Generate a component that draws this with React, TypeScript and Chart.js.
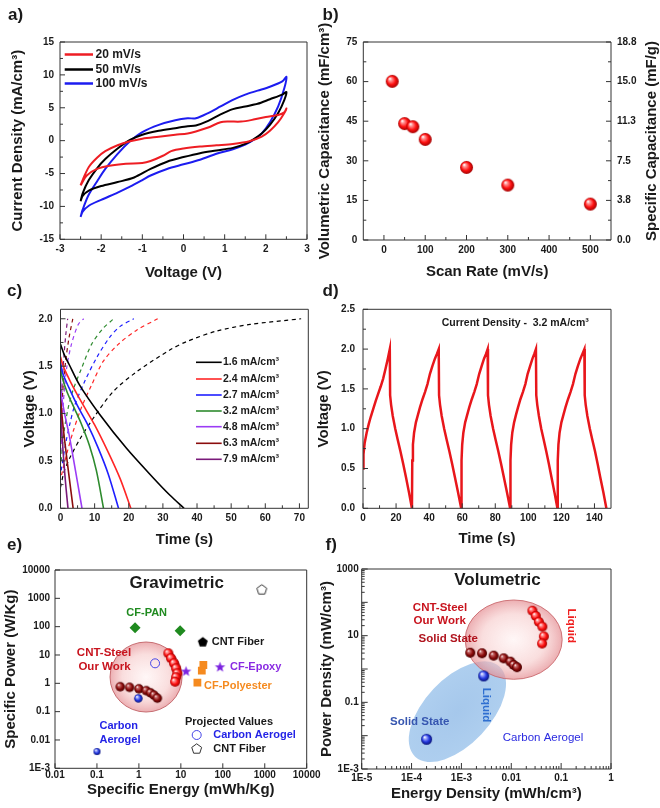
import React, { useEffect, useRef } from 'react';
import { Chart, registerables } from 'chart.js';

Chart.register(...registerables);

const FONT = "'Liberation Sans', Arial, Helvetica, sans-serif";
const INK = '#1a1a1a';
Chart.defaults.font.family = FONT;
Chart.defaults.color = INK;

/* ---------------- (a) cyclic voltammetry ---------------- */
const cv20Voltage = [-2.5, -2.45, -2.3, -2.1, -1.9, -1.6, -1.3, -1.0, -0.6, -0.2, 0.1, 0.3, 0.6, 0.9, 1.1, 1.4, 1.7, 2.0, 2.3, 2.45, 2.5, 2.45, 2.3, 2.1, 1.9, 1.6, 1.2, 0.8, 0.4, 0, -0.3, -0.5, -0.8, -1.0, -1.4, -1.8, -2.1, -2.35, -2.5];
const cv20Current = [-6.8, -6.0, -4.0, -2.6, -1.6, -0.7, -0.1, 0.3, 0.6, 0.9, 1.1, 1.4, 2.0, 2.8, 2.9, 2.9, 3.2, 3.6, 3.9, 4.3, 4.9, 4.2, 2.8, 1.5, 0.6, -0.1, -0.5, -0.7, -0.9, -1.2, -1.6, -2.3, -3.1, -3.4, -3.5, -3.8, -4.3, -5.3, -6.8];
const cv50Voltage = [-2.5, -2.45, -2.3, -2.1, -1.9, -1.6, -1.3, -1.0, -0.6, -0.2, 0.1, 0.3, 0.6, 0.9, 1.2, 1.5, 1.8, 2.1, 2.4, 2.5, 2.45, 2.3, 2.1, 1.9, 1.7, 1.5, 1.2, 0.8, 0.4, 0, -0.4, -0.8, -1.2, -1.6, -2.0, -2.3, -2.45, -2.5];
const cv50Current = [-9.2, -8.0, -6.0, -4.2, -2.8, -1.2, 0.1, 0.9, 1.5, 1.9, 2.2, 2.3, 3.0, 4.0, 4.8, 5.2, 5.6, 6.3, 7.0, 7.4, 6.2, 4.2, 2.4, 1.1, 0.2, -0.5, -1.1, -1.5, -1.9, -2.5, -3.2, -4.3, -5.6, -6.3, -6.9, -7.6, -8.4, -9.2];
const cv100Voltage = [-2.5, -2.45, -2.3, -2.1, -1.9, -1.6, -1.3, -1.0, -0.6, -0.2, 0.1, 0.3, 0.6, 0.9, 1.2, 1.5, 1.8, 2.1, 2.4, 2.5, 2.45, 2.3, 2.1, 1.9, 1.7, 1.5, 1.2, 0.8, 0.4, 0, -0.4, -0.8, -1.0, -1.3, -1.6, -2.0, -2.3, -2.45, -2.5];
const cv100Current = [-11.6, -10.5, -8.2, -6.2, -4.3, -2.0, -0.1, 1.3, 2.4, 3.1, 3.4, 3.4, 4.2, 5.2, 6.2, 7.0, 7.6, 8.2, 9.0, 9.7, 8.0, 5.2, 2.8, 1.1, 0.1, -0.6, -1.3, -2.0, -2.9, -3.6, -4.3, -5.3, -6.0, -7.0, -7.9, -9.0, -9.9, -10.8, -11.6];
const cvLegend = ['20 mV/s', '50 mV/s', '100 mV/s'];
const cvVoltageTicks = [-3, -2, -1, 0, 1, 2, 3];
const cvVoltageMinor = [-2.5, -1.5, -0.5, 0.5, 1.5, 2.5];
const cvCurrentTicks = [-15, -10, -5, 0, 5, 10, 15];
const cvCurrentMinor = [-12.5, -7.5, -2.5, 2.5, 7.5, 12.5];

/* ---------------- (b) capacitance vs scan rate ---------------- */
const scanRate = [20, 50, 70, 100, 200, 300, 500];
const volCapacitance = [60.1, 44.1, 42.9, 38.1, 27.5, 20.8, 13.6];
const scanRateTicks = [0, 100, 200, 300, 400, 500];
const scanRateMinor = [50, 150, 250, 350, 450];
const volCapTicks = [0, 15, 30, 45, 60, 75];
const volCapMinor = [7.5, 22.5, 37.5, 52.5, 67.5];
const specCapTicks = [0, 3.75, 7.5, 11.25, 15, 18.75];
const specCapLabels = ['0.0', '3.8', '7.5', '11.3', '15.0', '18.8'];

/* ---------------- (c) charge / discharge at several currents ---------------- */
const dis16Time = [0, 1, 2.5, 5.6, 11.5, 19.4, 27.2, 32, 36.2];
const dis16Volt = [1.73, 1.63, 1.52, 1.3, 0.99, 0.63, 0.32, 0.14, 0];
const dis24Time = [0, 0.8, 3, 6, 10, 14, 17.5, 20.6];
const dis24Volt = [1.6, 1.5, 1.33, 1.13, 0.88, 0.59, 0.31, 0];
const dis27Time = [0, 0.6, 2.5, 5, 8, 11, 14, 17.0];
const dis27Volt = [1.55, 1.43, 1.27, 1.08, 0.88, 0.64, 0.36, 0];
const dis32Time = [0, 0.5, 2, 4, 6, 8.5, 10.5, 12.6];
const dis32Volt = [1.5, 1.38, 1.22, 1.06, 0.9, 0.66, 0.4, 0];
const dis48Time = [0, 0.3, 1.2, 2.5, 3.8, 5, 6.3];
const dis48Volt = [1.35, 1.18, 1.0, 0.78, 0.52, 0.27, 0];
const dis63Time = [0, 0.2, 0.8, 1.6, 2.5, 3.7];
const dis63Volt = [1.3, 1.08, 0.85, 0.6, 0.34, 0];
const dis79Time = [0, 0.15, 0.5, 1.0, 1.6, 2.2];
const dis79Volt = [1.2, 0.98, 0.74, 0.48, 0.22, 0];
const chg16Time = [0, 1, 2.7, 6, 9.6, 15.4, 22.3, 32, 37, 45.7, 55.5, 70.5];
const chg16Volt = [0.22, 0.38, 0.53, 0.75, 0.95, 1.23, 1.44, 1.67, 1.76, 1.87, 1.94, 2.0];
const chg24Time = [0.3, 1.8, 3.7, 6.2, 9.1, 12.5, 16.9, 22.3, 28.5];
const chg24Volt = [0.35, 0.57, 0.81, 1.07, 1.3, 1.55, 1.73, 1.88, 2.0];
const chg27Time = [0.2, 1.5, 2.8, 4.2, 7.1, 10.6, 14.5, 17.5, 21.5];
const chg27Volt = [0.4, 0.68, 0.9, 1.09, 1.34, 1.59, 1.81, 1.92, 2.0];
const chg32Time = [0.2, 1.0, 2.2, 3.7, 6.2, 9.1, 12.5, 15.6];
const chg32Volt = [0.5, 0.8, 1.05, 1.25, 1.48, 1.73, 1.9, 2.0];
const chg48Time = [0.1, 0.8, 1.8, 3.2, 5.2, 6.8];
const chg48Volt = [0.6, 1.1, 1.48, 1.73, 1.94, 2.0];
const chg63Time = [0.1, 0.6, 1.5, 2.5, 3.6];
const chg63Volt = [0.7, 1.2, 1.55, 1.8, 2.0];
const chg79Time = [0.05, 0.4, 1.0, 1.6, 2.1];
const chg79Volt = [0.8, 1.25, 1.6, 1.85, 2.0];
const gcdCurrentLabels = ['1.6 mA/cm³', '2.4 mA/cm³', '2.7 mA/cm³', '3.2 mA/cm³', '4.8 mA/cm³', '6.3 mA/cm³', '7.9 mA/cm³'];
const gcdColors = ['#000000', '#ff2626', '#1f1fff', '#2e8b2e', '#9b3cf5', '#8b0d0d', '#7a1a7a'];
const timeTicksC = [0, 10, 20, 30, 40, 50, 60, 70];
const timeMinorC = [5, 15, 25, 35, 45, 55, 65];
const voltTicksC = [0, 0.5, 1, 1.5, 2];
const voltLabelsC = ['0.0', '0.5', '1.0', '1.5', '2.0'];
const voltMinorC = [0.25, 0.75, 1.25, 1.75];

/* ---------------- (d) cycling at 3.2 mA/cm3 ---------------- */
const cycleTime = [
  0, 0.3, 1.0, 2.2, 3.5, 4.7, 6.2, 7.7, 9.2, 10.7, 12.2, 13.7, 15.0, 16.2,
  16.4, 17.0, 18.0, 19.5, 21.0, 22.6, 24.3, 26.0, 27.8, 29.6,
  29.8, 30.2, 30.9, 32.0, 33.3, 34.5, 36.0, 37.5, 39.0, 40.5, 42.0, 43.5, 44.7, 45.8,
  46.0, 46.6, 47.6, 49.1, 50.6, 52.2, 53.9, 55.6, 57.5, 59.4,
  59.6, 60.0, 60.7, 61.8, 63.1, 64.3, 65.8, 67.3, 68.8, 70.3, 71.8, 73.2, 74.4, 75.4,
  75.6, 76.2, 77.2, 78.7, 80.2, 81.8, 83.5, 85.2, 87.1, 89.0,
  89.2, 89.6, 90.3, 91.4, 92.6, 93.8, 95.2, 96.7, 98.2, 99.6, 101.1, 102.5, 103.6, 104.6,
  104.8, 105.4, 106.4, 107.8, 109.3, 110.8, 112.4, 114.0, 115.8, 117.6,
  117.8, 118.2, 118.9, 120.0, 121.3, 122.5, 124.0, 125.5, 127.0, 128.5, 130.0, 131.5, 132.7, 133.9,
  134.1, 134.7, 135.7, 137.2, 138.7, 140.3, 141.9, 143.5, 145.4, 147.2,
];
const cycleVoltage = [
  0.5, 0.68, 0.82, 0.95, 1.06, 1.15, 1.25, 1.35, 1.44, 1.53, 1.63, 1.76, 1.88, 2.0,
  1.42, 1.3, 1.16, 1.0, 0.86, 0.72, 0.56, 0.39, 0.2, 0,
  0.6, 0.8, 0.95, 1.08, 1.18, 1.27, 1.37, 1.46, 1.56, 1.69, 1.79, 1.88, 1.94, 2.0,
  1.42, 1.3, 1.16, 1.0, 0.86, 0.72, 0.56, 0.39, 0.2, 0,
  0.6, 0.8, 0.95, 1.08, 1.18, 1.27, 1.37, 1.46, 1.56, 1.69, 1.79, 1.88, 1.94, 2.0,
  1.42, 1.3, 1.16, 1.0, 0.86, 0.72, 0.56, 0.39, 0.2, 0,
  0.6, 0.8, 0.95, 1.08, 1.18, 1.27, 1.37, 1.46, 1.56, 1.69, 1.79, 1.88, 1.94, 2.0,
  1.42, 1.3, 1.16, 1.0, 0.86, 0.72, 0.56, 0.39, 0.2, 0,
  0.6, 0.8, 0.95, 1.08, 1.18, 1.27, 1.37, 1.46, 1.56, 1.69, 1.79, 1.88, 1.94, 2.0,
  1.42, 1.3, 1.16, 1.0, 0.86, 0.72, 0.56, 0.39, 0.2, 0,
];
const timeTicksD = [0, 20, 40, 60, 80, 100, 120, 140];
const timeMinorD = [10, 30, 50, 70, 90, 110, 130];
const voltTicksD = [0, 0.5, 1, 1.5, 2, 2.5];
const voltLabelsD = ['0.0', '0.5', '1.0', '1.5', '2.0', '2.5'];
const voltMinorD = [0.25, 0.75, 1.25, 1.75, 2.25];

/* ---------------- (e) gravimetric Ragone ---------------- */
const steelLiquidEnergyE = [5.04, 5.84, 6.88, 7.69, 8.26, 7.69, 7.28];
const steelLiquidPowerE = [11.5, 7.64, 5.08, 3.38, 2.25, 1.63, 1.14];
const steelSolidEnergyE = [0.36, 0.6, 1.0, 1.5, 1.9, 2.3, 2.75];
const steelSolidPowerE = [0.76, 0.72, 0.64, 0.55, 0.46, 0.38, 0.3];
const aerogelEnergyE = [0.1, 0.97];
const aerogelPowerE = [0.0039, 0.295];
const aerogelProjEnergyE = [2.43];
const aerogelProjPowerE = [5.08];
const cntFiberEnergyE = [33.3];
const cntFiberPowerE = [29.4];
const cntFiberProjEnergyE = [850];
const cntFiberProjPowerE = [2080];
const cfPanEnergyE = [0.81, 9.6];
const cfPanPowerE = [92, 72];
const cfEpoxyEnergyE = [13.3, 86];
const cfEpoxyPowerE = [2.72, 3.85];
const cfPolyEnergyE = [24.8, 31.6, 34.4];
const cfPolyPowerE = [1.05, 2.79, 4.43];
const steelZoneEnergyE = [0.205, 10.7];
const steelZonePowerE = [0.097, 28.7];
const energyTicksE = [0.01, 0.1, 1, 10, 100, 1000, 10000];
const energyLabelsE = ['0.01', '0.1', '1', '10', '100', '1000', '10000'];
const powerTicksE = [0.001, 0.01, 0.1, 1, 10, 100, 1000, 10000];
const powerLabelsE = ['1E-3', '0.01', '0.1', '1', '10', '100', '1000', '10000'];

/* ---------------- (f) volumetric Ragone ---------------- */
const steelLiquidEnergyF = [0.0265, 0.031, 0.0357, 0.042, 0.045, 0.0415];
const steelLiquidPowerF = [56, 39, 26, 18.6, 9.5, 5.8];
const steelSolidEnergyF = [0.0015, 0.00259, 0.00443, 0.00704, 0.0096, 0.0112, 0.013];
const steelSolidPowerF = [3.08, 2.96, 2.51, 2.09, 1.66, 1.32, 1.13];
const aerogelEnergyF = [0.0028, 0.0002];
const aerogelPowerF = [0.62, 0.0078];
const steelZoneEnergyF = [0.00119, 0.105];
const steelZonePowerF = [0.49, 117.5];
const aerogelZoneEnergyF = [0.000118, 0.00585];
const aerogelZonePowerF = [0.00234, 1.17];
const energyTicksF = [1e-5, 1e-4, 1e-3, 0.01, 0.1, 1];
const energyLabelsF = ['1E-5', '1E-4', '1E-3', '0.01', '0.1', '1'];
const powerTicksF = [1e-3, 0.1, 10, 1000];
const powerLabelsF = ['1E-3', '0.1', '10', '1000'];
const powerDecadesF = [1e-3, 1e-2, 0.1, 1, 10, 100, 1000];

const minorLog = (decades: number[]) =>
  decades.slice(0, -1).flatMap((d) => [2, 3, 4, 5, 6, 7, 8, 9].map((m) => m * d));

/* ---------------- helpers ---------------- */
type Marks = { major: number[]; minor: number[] };
type Note = { t: string; x: number; y: number; size: number; color?: string; weight?: string; align?: CanvasTextAlign; rot?: number };
type Seg = { x1: number; x2: number; y: number; color: string; width: number };
type Sym = { kind: 'circle' | 'pentagon'; x: number; y: number; r: number; color: string };

const xy = (xs: number[], ys: number[]) => xs.map((x, i) => ({ x, y: ys[i] }));

function axis(o: {
  type?: 'linear' | 'logarithmic'; position: 'left' | 'right' | 'bottom'; min: number; max: number;
  ticks: number[]; labels: string[]; size: number; title?: string; pad: number;
}) {
  const horizontal = o.position === 'bottom';
  return {
    type: o.type ?? 'linear',
    position: o.position,
    min: o.min,
    max: o.max,
    afterBuildTicks: (s: any) => { s.ticks = o.ticks.map((v) => ({ value: v })); },
    afterFit: (s: any) => { if (horizontal) s.height = o.size; else s.width = o.size; },
    grid: { display: false, drawTicks: false },
    border: { display: false },
    ticks: {
      autoSkip: false, maxRotation: 0, minRotation: 0, padding: o.pad, color: INK,
      font: { family: FONT, size: 10, weight: 'bold' },
      callback: (_v: any, i: number) => o.labels[i],
    },
    title: {
      display: !!o.title, text: o.title ?? '', color: INK, padding: 0,
      font: { family: FONT, size: 15, weight: 'bold' },
    },
  };
}

function pentagonPath(ctx: CanvasRenderingContext2D, cx: number, cy: number, r: number) {
  ctx.beginPath();
  for (let k = 0; k < 5; k++) {
    const a = -Math.PI / 2 + (k * 2 * Math.PI) / 5;
    const px = cx + r * Math.cos(a), py = cy + r * Math.sin(a);
    if (k === 0) ctx.moveTo(px, py); else ctx.lineTo(px, py);
  }
  ctx.closePath();
}
function starPath(ctx: CanvasRenderingContext2D, cx: number, cy: number, R: number, r: number) {
  ctx.beginPath();
  for (let k = 0; k < 10; k++) {
    const a = -Math.PI / 2 + (k * Math.PI) / 5;
    const rr = k % 2 === 0 ? R : r;
    const px = cx + rr * Math.cos(a), py = cy + rr * Math.sin(a);
    if (k === 0) ctx.moveTo(px, py); else ctx.lineTo(px, py);
  }
  ctx.closePath();
}
function sprite(size: number, draw: (g: CanvasRenderingContext2D, c: number) => void) {
  const c = document.createElement('canvas');
  c.width = size; c.height = size;
  draw(c.getContext('2d')!, size / 2);
  return c;
}
function sphere(d: number, hi: string, mid: string, lo: string) {
  return sprite(Math.ceil(d) + 2, (g, c) => {
    const r = d / 2;
    const grad = g.createRadialGradient(c - r * 0.38, c - r * 0.42, r * 0.05, c, c, r);
    grad.addColorStop(0, '#ffffff');
    grad.addColorStop(0.2, hi);
    grad.addColorStop(0.62, mid);
    grad.addColorStop(1, lo);
    g.fillStyle = grad;
    g.beginPath(); g.arc(c, c, r, 0, Math.PI * 2); g.fill();
  });
}

function zone(ctx: CanvasRenderingContext2D, cx: number, cy: number, rx: number, ry: number, rot: number,
  stops: [number, string][], stroke?: string) {
  ctx.save();
  ctx.translate(cx, cy);
  ctx.rotate(rot);
  ctx.scale(rx, ry);
  const g = ctx.createRadialGradient(0, 0, 0, 0, 0, 1);
  stops.forEach(([o, c]) => g.addColorStop(o, c));
  ctx.beginPath();
  ctx.arc(0, 0, 1, 0, Math.PI * 2);
  ctx.fillStyle = g;
  ctx.fill();
  ctx.restore();
  if (stroke) { ctx.save(); ctx.strokeStyle = stroke; ctx.lineWidth = 1; ctx.stroke(); ctx.restore(); }
}
const PINK_STOPS: [number, string][] = [[0, 'rgba(255,240,240,0.55)'], [0.65, 'rgba(246,200,200,0.6)'], [1, 'rgba(228,140,145,0.7)']];

function decor(o: {
  marks: { x: Marks; y: Marks; y2?: Marks }; majorLen: number; minorLen: number;
  notes: Note[]; segs?: Seg[]; syms?: Sym[]; zones?: (chart: any) => void;
}) {
  return {
    id: 'decor',
    beforeDatasetsDraw(chart: any) { if (o.zones) o.zones(chart); },
    afterDatasetsDraw(chart: any) {
      const { ctx, chartArea: a, scales } = chart;
      ctx.save();
      ctx.strokeStyle = '#333333';
      ctx.lineWidth = 1;
      ctx.beginPath();
      ctx.rect(a.left, a.top, a.right - a.left, a.bottom - a.top);
      const addX = (vals: number[], len: number) => vals.forEach((v) => {
        const p = scales.x.getPixelForValue(v);
        ctx.moveTo(p, a.bottom); ctx.lineTo(p, a.bottom - len);
      });
      const addY = (sc: any, vals: number[], len: number, right: boolean) => vals.forEach((v) => {
        const p = sc.getPixelForValue(v);
        const x0 = right ? a.right : a.left;
        ctx.moveTo(x0, p); ctx.lineTo(right ? x0 - len : x0 + len, p);
      });
      addX(o.marks.x.major, o.majorLen); addX(o.marks.x.minor, o.minorLen);
      addY(scales.y, o.marks.y.major, o.majorLen, false); addY(scales.y, o.marks.y.minor, o.minorLen, false);
      if (o.marks.y2) { addY(scales.y2, o.marks.y2.major, o.majorLen, true); addY(scales.y2, o.marks.y2.minor, o.minorLen, true); }
      ctx.stroke();
      ctx.restore();
    },
    afterDraw(chart: any) {
      const ctx: CanvasRenderingContext2D = chart.ctx;
      (o.segs ?? []).forEach((s) => {
        ctx.save(); ctx.strokeStyle = s.color; ctx.lineWidth = s.width;
        ctx.beginPath(); ctx.moveTo(s.x1, s.y); ctx.lineTo(s.x2, s.y); ctx.stroke(); ctx.restore();
      });
      (o.syms ?? []).forEach((s) => {
        ctx.save(); ctx.strokeStyle = s.color; ctx.lineWidth = 1;
        if (s.kind === 'circle') { ctx.beginPath(); ctx.arc(s.x, s.y, s.r, 0, Math.PI * 2); }
        else pentagonPath(ctx, s.x, s.y, s.r);
        ctx.stroke(); ctx.restore();
      });
      o.notes.forEach((n) => {
        ctx.save();
        ctx.translate(n.x, n.y);
        if (n.rot) ctx.rotate((n.rot * Math.PI) / 180);
        ctx.font = `${n.weight ?? 'bold'} ${n.size}px ${FONT}`;
        ctx.fillStyle = n.color ?? INK;
        ctx.textAlign = n.align ?? 'left';
        ctx.textBaseline = 'middle';
        ctx.fillText(n.t, 0, 0);
        ctx.restore();
      });
    },
  };
}

function base(padding: { left: number; right: number; top: number; bottom: number }) {
  return {
    responsive: false,
    maintainAspectRatio: false,
    animation: false as const,
    events: [] as any[],
    devicePixelRatio: 1,
    layout: { padding, autoPadding: false },
    plugins: { legend: { display: false }, tooltip: { enabled: false }, title: { display: false } },
  };
}

const line = (xs: number[], ys: number[], color: string, width: number, dash: number[] = [], tension = 0.3) => ({
  data: xy(xs, ys), showLine: true, borderColor: color, backgroundColor: color, borderWidth: width,
  borderDash: dash, pointRadius: 0, tension, fill: false,
});

/* ---------------- panels ---------------- */
function panelA(): any {
  const colors = ['#ee1d23', '#000000', '#1c1cf0'];
  return {
    type: 'scatter',
    data: {
      datasets: [
        line(cv20Voltage, cv20Current, colors[0], 2),
        line(cv50Voltage, cv50Current, colors[1], 2),
        line(cv100Voltage, cv100Current, colors[2], 2),
      ],
    },
    options: {
      ...base({ left: 9, right: 353, top: 42, bottom: 526.5 }),
      scales: {
        x: axis({ position: 'bottom', min: -3, max: 3, ticks: cvVoltageTicks, labels: cvVoltageTicks.map(String), size: 42.2, title: 'Voltage (V)', pad: 4 }),
        y: axis({ position: 'left', min: -15, max: 15, ticks: cvCurrentTicks, labels: cvCurrentTicks.map(String), size: 51, title: 'Current Density (mA/cm³)', pad: 6 }),
      },
    },
    plugins: [decor({
      marks: { x: { major: cvVoltageTicks, minor: cvVoltageMinor }, y: { major: cvCurrentTicks, minor: cvCurrentMinor } },
      majorLen: 5, minorLen: 3,
      segs: [54.5, 69.5, 83.5].map((y, i) => ({ x1: 64.7, x2: 93, y, color: colors[i], width: 2.5 })),
      notes: [
        { t: 'a)', x: 8, y: 15, size: 17 },
        ...cvLegend.map((t, i) => ({ t, x: 95.5, y: [54.5, 69.5, 83.5][i], size: 12 })),
      ],
    })],
  };
}

function panelB(ball: HTMLCanvasElement): any {
  return {
    type: 'scatter',
    data: { datasets: [{ data: xy(scanRate, volCapacitance), pointStyle: ball, pointRadius: 6, yAxisID: 'y' }] },
    options: {
      ...base({ left: 316, right: 19, top: 42, bottom: 527.3 }),
      scales: {
        x: axis({ position: 'bottom', min: -50, max: 550, ticks: scanRateTicks, labels: scanRateTicks.map(String), size: 40.7, title: 'Scan Rate (mV/s)', pad: 4 }),
        y: axis({ position: 'left', min: 0, max: 75, ticks: volCapTicks, labels: volCapTicks.map(String), size: 47.3, title: 'Volumetric Capacitance (mF/cm³)', pad: 6 }),
        y2: axis({ position: 'right', min: 0, max: 18.75, ticks: specCapTicks, labels: specCapLabels, size: 30, pad: 6 }),
      },
    },
    plugins: [decor({
      marks: {
        x: { major: scanRateTicks, minor: scanRateMinor },
        y: { major: volCapTicks, minor: volCapMinor },
        y2: { major: specCapTicks, minor: volCapMinor.map((v) => v / 4) },
      },
      majorLen: 5, minorLen: 3,
      notes: [
        { t: 'b)', x: 322.5, y: 15, size: 17 },
        { t: 'Specific Capacitance (mF/g)', x: 652, y: 141, size: 15, align: 'center', rot: -90 },
      ],
    })],
  };
}

function panelC(): any {
  const dis = [[dis16Time, dis16Volt], [dis24Time, dis24Volt], [dis27Time, dis27Volt], [dis32Time, dis32Volt], [dis48Time, dis48Volt], [dis63Time, dis63Volt], [dis79Time, dis79Volt]];
  const chg = [[chg16Time, chg16Volt], [chg24Time, chg24Volt], [chg27Time, chg27Volt], [chg32Time, chg32Volt], [chg48Time, chg48Volt], [chg63Time, chg63Volt], [chg79Time, chg79Volt]];
  const rows = [362.3, 379, 395, 411, 426.7, 443.3, 459.3];
  return {
    type: 'scatter',
    data: {
      datasets: [
        ...dis.map(([t, v], i) => line(t, v, gcdColors[i], 1.6)),
        ...chg.map(([t, v], i) => line(t, v, gcdColors[i], 1.2, [4, 3.5])),
      ],
    },
    options: {
      ...base({ left: 21.3, right: 351.7, top: 309.3, bottom: 259 }),
      scales: {
        x: axis({ position: 'bottom', min: 0, max: 72.6, ticks: timeTicksC, labels: timeTicksC.map(String), size: 40.7, title: 'Time (s)', pad: 4 }),
        y: axis({ position: 'left', min: 0, max: 2.1, ticks: voltTicksC, labels: voltLabelsC, size: 39.2, title: 'Voltage (V)', pad: 8 }),
      },
    },
    plugins: [decor({
      marks: { x: { major: timeTicksC, minor: timeMinorC }, y: { major: voltTicksC, minor: voltMinorC } },
      majorLen: 5, minorLen: 3,
      segs: rows.map((y, i) => ({ x1: 196, x2: 221.7, y, color: gcdColors[i], width: 1.6 })),
      notes: [
        { t: 'c)', x: 7, y: 291.5, size: 17 },
        ...gcdCurrentLabels.map((t, i) => ({ t, x: 223, y: rows[i], size: 10.5 })),
      ],
    })],
  };
}

function panelD(): any {
  return {
    type: 'scatter',
    data: { datasets: [line(cycleTime, cycleVoltage, '#e8161b', 2.5, [], 0)] },
    options: {
      ...base({ left: 315, right: 49, top: 309.3, bottom: 259.7 }),
      scales: {
        x: axis({ position: 'bottom', min: 0, max: 150, ticks: timeTicksD, labels: timeTicksD.map(String), size: 40, title: 'Time (s)', pad: 4 }),
        y: axis({ position: 'left', min: 0, max: 2.5, ticks: voltTicksD, labels: voltLabelsD, size: 48, title: 'Voltage (V)', pad: 8 }),
      },
    },
    plugins: [decor({
      marks: { x: { major: timeTicksD, minor: timeMinorD }, y: { major: voltTicksD, minor: voltMinorD } },
      majorLen: 5, minorLen: 3,
      notes: [
        { t: 'd)', x: 322.5, y: 291.5, size: 17 },
        { t: 'Current Density -  3.2 mA/cm³', x: 441.7, y: 323.3, size: 10.5 },
      ],
    })],
  };
}

function panelE(s: Record<string, HTMLCanvasElement>): any {
  const STEEL = '#c8141e', GREEN = '#1f8a1f', PURPLE = '#8a2be2', ORANGE = '#f58a1f', BLUE = '#2323e6';
  return {
    type: 'scatter',
    data: {
      datasets: [
        { data: xy(steelLiquidEnergyE, steelLiquidPowerE), pointStyle: s.red10, pointRadius: 4 },
        { data: xy(steelSolidEnergyE, steelSolidPowerE), pointStyle: s.dark95, pointRadius: 4 },
        { data: xy(aerogelEnergyE, aerogelPowerE), pointStyle: [s.blue7, s.blue8], pointRadius: 4 },
        { data: xy(aerogelProjEnergyE, aerogelProjPowerE), pointStyle: 'circle', pointRadius: 4.5, borderColor: '#4545e6', backgroundColor: 'rgba(0,0,0,0)', borderWidth: 1 },
        { data: xy(cntFiberEnergyE, cntFiberPowerE), pointStyle: s.pent, pointRadius: 5 },
        { data: xy(cntFiberProjEnergyE, cntFiberProjPowerE), pointStyle: s.pentHollow, pointRadius: 5 },
        { data: xy(cfPanEnergyE, cfPanPowerE), pointStyle: 'rectRot', pointRadius: 5.5, backgroundColor: GREEN, borderColor: GREEN, borderWidth: 0 },
        { data: xy(cfEpoxyEnergyE, cfEpoxyPowerE), pointStyle: s.star, pointRadius: 5 },
        { data: xy(cfPolyEnergyE, cfPolyPowerE), pointStyle: 'rect', pointRadius: 5.5, backgroundColor: ORANGE, borderColor: ORANGE, borderWidth: 0 },
      ],
    },
    options: {
      ...base({ left: 1.7, right: 353.3, top: 570, bottom: 9.5 }),
      scales: {
        x: axis({ type: 'logarithmic', position: 'bottom', min: 0.01, max: 10000, ticks: energyTicksE, labels: energyLabelsE, size: 30.2, title: 'Specific Energy (mWh/Kg)', pad: 1 }),
        y: axis({ type: 'logarithmic', position: 'left', min: 0.001, max: 10000, ticks: powerTicksE, labels: powerLabelsE, size: 53.3, title: 'Specific Power (W/Kg)', pad: 5 }),
      },
    },
    plugins: [decor({
      marks: { x: { major: energyTicksE, minor: [] }, y: { major: powerTicksE, minor: [] } },
      majorLen: 5, minorLen: 3,
      zones: (chart: any) => {
        const { x, y } = chart.scales;
        const x0 = x.getPixelForValue(steelZoneEnergyE[0]), x1 = x.getPixelForValue(steelZoneEnergyE[1]);
        const y0 = y.getPixelForValue(steelZonePowerE[0]), y1 = y.getPixelForValue(steelZonePowerE[1]);
        zone(chart.ctx, (x0 + x1) / 2, (y0 + y1) / 2, Math.abs(x1 - x0) / 2, Math.abs(y1 - y0) / 2, 0, PINK_STOPS, 'rgba(190,90,95,0.85)');
      },
      syms: [
        { kind: 'circle', x: 196.7, y: 735, r: 4.5, color: '#4545e6' },
        { kind: 'pentagon', x: 196.7, y: 749, r: 5.2, color: '#333333' },
      ],
      notes: [
        { t: 'e)', x: 7, y: 545, size: 17 },
        { t: 'Gravimetric', x: 176.7, y: 583.3, size: 17, align: 'center' },
        { t: 'CF-PAN', x: 146.7, y: 613.3, size: 11, color: GREEN, align: 'center' },
        { t: 'CNT Fiber', x: 211.7, y: 642, size: 11 },
        { t: 'CNT-Steel', x: 104, y: 653.3, size: 11.5, color: STEEL, align: 'center' },
        { t: 'Our Work', x: 104.5, y: 666.7, size: 11.5, color: STEEL, align: 'center' },
        { t: 'CF-Epoxy', x: 230, y: 667.3, size: 11, color: PURPLE },
        { t: 'CF-Polyester', x: 204, y: 686, size: 11, color: ORANGE },
        { t: 'Carbon', x: 118.7, y: 726, size: 11, color: BLUE, align: 'center' },
        { t: 'Aerogel', x: 120, y: 740, size: 11, color: BLUE, align: 'center' },
        { t: 'Projected Values', x: 185, y: 721.7, size: 11 },
        { t: 'Carbon Aerogel', x: 213.3, y: 735, size: 11, color: BLUE },
        { t: 'CNT Fiber', x: 213.3, y: 749, size: 11 },
      ],
    })],
  };
}

function panelF(s: Record<string, HTMLCanvasElement>): any {
  const STEEL = '#c8141e';
  return {
    type: 'scatter',
    data: {
      datasets: [
        { data: xy(steelSolidEnergyF, steelSolidPowerF), pointStyle: s.dark10, pointRadius: 5 },
        { data: xy(steelLiquidEnergyF, steelLiquidPowerF), pointStyle: s.red10, pointRadius: 5 },
        { data: xy(aerogelEnergyF, aerogelPowerF), pointStyle: s.blue11, pointRadius: 5 },
      ],
    },
    options: {
      ...base({ left: 318, right: 49, top: 569, bottom: 4.7 }),
      scales: {
        x: axis({ type: 'logarithmic', position: 'bottom', min: 1e-5, max: 1, ticks: energyTicksF, labels: energyLabelsF, size: 34.3, title: 'Energy Density (mWh/cm³)', pad: 3 }),
        y: axis({ type: 'logarithmic', position: 'left', min: 1e-3, max: 1000, ticks: powerTicksF, labels: powerLabelsF, size: 43.7, title: 'Power Density (mW/cm³)', pad: 3 }),
      },
    },
    plugins: [decor({
      marks: { x: { major: energyTicksF, minor: minorLog(energyTicksF) }, y: { major: powerDecadesF, minor: minorLog(powerDecadesF) } },
      majorLen: 6, minorLen: 3,
      zones: (chart: any) => {
        const { x, y } = chart.scales;
        const bx0 = x.getPixelForValue(aerogelZoneEnergyF[0]), bx1 = x.getPixelForValue(aerogelZoneEnergyF[1]);
        const by0 = y.getPixelForValue(aerogelZonePowerF[0]), by1 = y.getPixelForValue(aerogelZonePowerF[1]);
        const half = Math.hypot(bx1 - bx0, by1 - by0) / 2;
        zone(chart.ctx, (bx0 + bx1) / 2, (by0 + by1) / 2, half, 33, Math.atan2(by1 - by0, bx1 - bx0),
          [[0, 'rgba(150,190,232,0.85)'], [1, 'rgba(160,198,236,0.85)']]);
        const px0 = x.getPixelForValue(steelZoneEnergyF[0]), px1 = x.getPixelForValue(steelZoneEnergyF[1]);
        const py0 = y.getPixelForValue(steelZonePowerF[0]), py1 = y.getPixelForValue(steelZonePowerF[1]);
        zone(chart.ctx, (px0 + px1) / 2, (py0 + py1) / 2, Math.abs(px1 - px0) / 2, Math.abs(py1 - py0) / 2, 0, PINK_STOPS, 'rgba(200,100,105,0.85)');
      },
      notes: [
        { t: 'f)', x: 325.5, y: 545, size: 17 },
        { t: 'Volumetric', x: 497.5, y: 580, size: 17, align: 'center' },
        { t: 'CNT-Steel', x: 440, y: 607.7, size: 11.5, color: STEEL, align: 'center' },
        { t: 'Our Work', x: 439.7, y: 621, size: 11.5, color: STEEL, align: 'center' },
        { t: 'Solid State', x: 448.3, y: 639.3, size: 11.5, color: '#b0141e', align: 'center' },
        { t: 'Liquid', x: 570.7, y: 625.8, size: 11.5, color: '#f02020', align: 'center', rot: 90 },
        { t: 'Liquid', x: 485.8, y: 705, size: 11.5, color: '#2f6fd0', align: 'center', rot: 90 },
        { t: 'Solid State', x: 419.7, y: 722.3, size: 11.5, color: '#3656b0', align: 'center' },
        { t: 'Carbon Aerogel', x: 543, y: 737.7, size: 11.5, color: '#2a2ae0', align: 'center', weight: 'normal' },
      ],
    })],
  };
}

export default function App() {
  const refs = [useRef<HTMLCanvasElement>(null), useRef<HTMLCanvasElement>(null), useRef<HTMLCanvasElement>(null),
    useRef<HTMLCanvasElement>(null), useRef<HTMLCanvasElement>(null), useRef<HTMLCanvasElement>(null)];

  useEffect(() => {
    const s: Record<string, HTMLCanvasElement> = {
      red13: sphere(13, '#ff9a9a', '#ff1212', '#a00000'),
      red10: sphere(10, '#ff9a9a', '#ff1212', '#a00000'),
      dark95: sphere(9.5, '#c87070', '#8b0a0a', '#450000'),
      dark10: sphere(10, '#c87070', '#8b0a0a', '#450000'),
      blue7: sphere(7, '#aab4ff', '#2438e0', '#0a1478'),
      blue8: sphere(8.5, '#aab4ff', '#2438e0', '#0a1478'),
      blue11: sphere(11, '#aab4ff', '#2438e0', '#0a1478'),
      pent: sprite(12, (g, c) => { pentagonPath(g, c, c + 0.5, 5.2); g.fillStyle = '#000'; g.fill(); }),
      pentHollow: sprite(13, (g, c) => { pentagonPath(g, c, c + 0.5, 5.2); g.strokeStyle = '#333'; g.lineWidth = 1; g.stroke(); }),
      star: sprite(13, (g, c) => { starPath(g, c, c + 0.5, 5.5, 2.3); g.fillStyle = '#7b22e0'; g.fill(); }),
    };
    const configs = [panelA(), panelB(s.red13), panelC(), panelD(), panelE(s), panelF(s)];
    const charts = configs.map((cfg, i) => new Chart(refs[i].current!, cfg));
    return () => charts.forEach((c) => c.destroy());
  }, []);

  return (
    <div style={{ position: 'absolute', left: 0, top: 0, width: 660, height: 808, background: '#ffffff', overflow: 'hidden' }}>
      {refs.map((r, i) => (
        <canvas key={i} ref={r} width={660} height={808}
          style={{ position: 'absolute', left: 0, top: 0, width: 660, height: 808, pointerEvents: 'none' }} />
      ))}
    </div>
  );
}
